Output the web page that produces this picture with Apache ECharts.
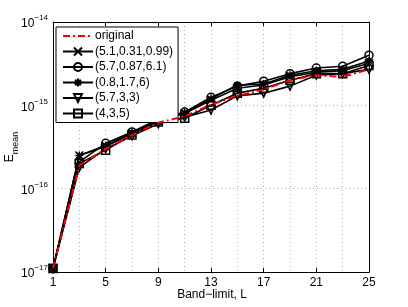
<!DOCTYPE html>
<html>
<head>
<meta charset="utf-8">
<script src="https://cdn.jsdelivr.net/npm/echarts@6/dist/echarts.min.js"></script>
<style>html,body{margin:0;padding:0;background:#fff}#c{width:408px;height:307px}</style>
</head>
<body>
<div id="c"></div>
<script>
var bandLimit = ['1','3','5','7','9','11','13','15','17','19','21','23','25'];
var original = [1.1e-17,1.9e-16,3.0e-16,4.4e-16,6.2e-16,7.4e-16,1.02e-15,1.3e-15,1.55e-15,2.0e-15,2.3e-15,2.2e-15,2.7e-15];
var s1 = [1.1e-17,2.5e-16,3.2e-16,4.6e-16,6.5e-16,8.0e-16,1.15e-15,1.6e-15,1.75e-15,2.2e-15,2.5e-15,2.6e-15,3.2e-15];
var s2 = [1.1e-17,2.1e-16,3.5e-16,4.8e-16,6.8e-16,8.3e-16,1.25e-15,1.7e-15,1.95e-15,2.4e-15,2.8e-15,2.95e-15,4.0e-15];
var s3 = [1.1e-17,2.5e-16,3.3e-16,4.7e-16,6.6e-16,8.2e-16,1.2e-15,1.75e-15,1.8e-15,2.3e-15,2.6e-15,2.7e-15,3.4e-15];
var s4 = [1.1e-17,1.8e-16,3.0e-16,4.3e-16,6.0e-16,7.2e-16,8.8e-16,1.3e-15,1.4e-15,1.7e-15,2.3e-15,2.4e-15,2.7e-15];
var s5 = [1.1e-17,2.0e-16,2.9e-16,4.4e-16,6.3e-16,7.0e-16,1.0e-15,1.4e-15,1.6e-15,2.0e-15,2.4e-15,2.4e-15,3.0e-15];
var names = ['original','(5.1,0.31,0.99)','(5.7,0.87,6.1)','(0.8,1.7,6)','(5.7,3,3)','(4,3,5)'];
var yMajor = [1e-17,1e-16,1e-15,1e-14];
var yMinor = [];
[1e-17,1e-16,1e-15].forEach(function(d){ for (var k=2;k<=9;k++) yMinor.push(k*d); });

var FONT = 'Liberation Sans';
var GRID = {color:'#b0b0b0', type:[1,3], width:1};
var chart = echarts.init(document.getElementById('c'));
var markers = [
  'path://M0,0L10,10M10,0L0,10',
  'circle',
  'path://M5,0L5,10M0,5L10,5M1.5,1.5L8.5,8.5M8.5,1.5L1.5,8.5',
  'path://M0,0L10,0L5,9Z',
  'rect'
];
var blackData = [s1,s2,s3,s4,s5];
var series = blackData.map(function(d,i){
  return {
    name: names[i+1], type:'line', data:d, symbol: markers[i], symbolSize: 8,
    lineStyle:{color:'#000', width:1.6},
    itemStyle:{color:'rgba(0,0,0,0)', borderColor:'#000', borderWidth:1.5},
    emphasis:{disabled:true}, animation:false, z:2
  };
});
series[0].markLine = {
  silent:true, symbol:'none', label:{show:false}, animation:false,
  lineStyle:GRID, emphasis:{disabled:true},
  data: yMinor.map(function(v){ return {yAxis:v}; })
};
series.push({
  name: names[0], type:'line', data: original, symbol:'none',
  lineStyle:{color:'#ff0000', width:2, type:[7,3,2,3]},
  itemStyle:{color:'#ff0000'},
  emphasis:{disabled:true}, animation:false, z:5
});
function supLabel(v){
  var e = Math.round(Math.log10(v));
  return '{b|10}{s|' + String(e).replace('-', '\u2212') + '}';
}
var richSup = {
  b:{fontSize:12, fontFamily:FONT, color:'#000', lineHeight:16, verticalAlign:'bottom'},
  s:{fontSize:8, fontFamily:FONT, color:'#000', lineHeight:16, verticalAlign:'top', padding:[0,0,6,0]}
};
var legendData = names.map(function(n,i){
  return i===0 ? {name:n, itemStyle:{opacity:0}} : {name:n};
});
chart.setOption({
  animation:false,
  backgroundColor:'#fff',
  grid:{left:53, right:39, top:22, bottom:35, containLabel:false, outerBoundsMode:'none'},
  legend:{
    data:legendData, orient:'vertical', left:56, top:27, itemWidth:30, itemHeight:10, itemGap:3.5,
    backgroundColor:'#fff', borderColor:'#000', borderWidth:1, padding:[3,5,3,6],
    textStyle:{fontFamily:FONT, fontSize:12, color:'#000', padding:[0,0,0,-3]}, selectedMode:false
  },
  graphic:[
    {type:'text', x:212, y:295, silent:true,
     style:{text:'Band\u2212limit, L', fontFamily:FONT, fontSize:12, fill:'#000', align:'center', verticalAlign:'middle'}},
    {type:'text', x:12, y:147, rotation:Math.PI/2, silent:true,
     style:{text:'{e|E}{m|mean}', align:'center', verticalAlign:'middle',
       rich:{
         e:{fontSize:12, fontFamily:FONT, fill:'#000', lineHeight:16, verticalAlign:'top'},
         m:{fontSize:9, fontFamily:FONT, fill:'#000', lineHeight:16, verticalAlign:'bottom', padding:[5,0,0,0]}
       }}}
  ],
  xAxis:[{
    type:'category', data:bandLimit, boundaryGap:false,
    axisLine:{lineStyle:{color:'#000', width:1}},
    axisTick:{inside:true, length:4, interval:1, lineStyle:{color:'#000'}},
    axisLabel:{interval:1, fontFamily:FONT, fontSize:12, color:'#000', margin:5},
    splitLine:{show:true, interval:0, lineStyle:GRID}
  },{
    type:'category', data:bandLimit, boundaryGap:false, position:'top',
    axisLine:{lineStyle:{color:'#000', width:1}},
    axisTick:{inside:true, length:4, interval:1, lineStyle:{color:'#000'}},
    axisLabel:{show:false}, splitLine:{show:false}
  }],
  yAxis:[{
    type:'log', logBase:10, min:1e-17, max:1e-14,
    axisLine:{show:true, lineStyle:{color:'#000', width:1}},
    axisTick:{inside:true, length:4, lineStyle:{color:'#000'}},
    axisLabel:{formatter:supLabel, rich:richSup, margin:5},
    splitLine:{show:true, lineStyle:GRID}
  },{
    type:'log', logBase:10, min:1e-17, max:1e-14, position:'right',
    axisLine:{show:true, lineStyle:{color:'#000', width:1}},
    axisTick:{inside:true, length:3, customValues: yMajor.concat(yMinor), lineStyle:{color:'#000'}},
    axisLabel:{show:false}, splitLine:{show:false}
  },{
    type:'log', logBase:10, min:1e-17, max:1e-14, position:'left',
    axisLine:{show:false},
    axisTick:{inside:true, length:2, customValues: yMinor, lineStyle:{color:'#000'}},
    axisLabel:{show:false}, splitLine:{show:false}
  }],
  series: series
});
</script>
</body>
</html>
